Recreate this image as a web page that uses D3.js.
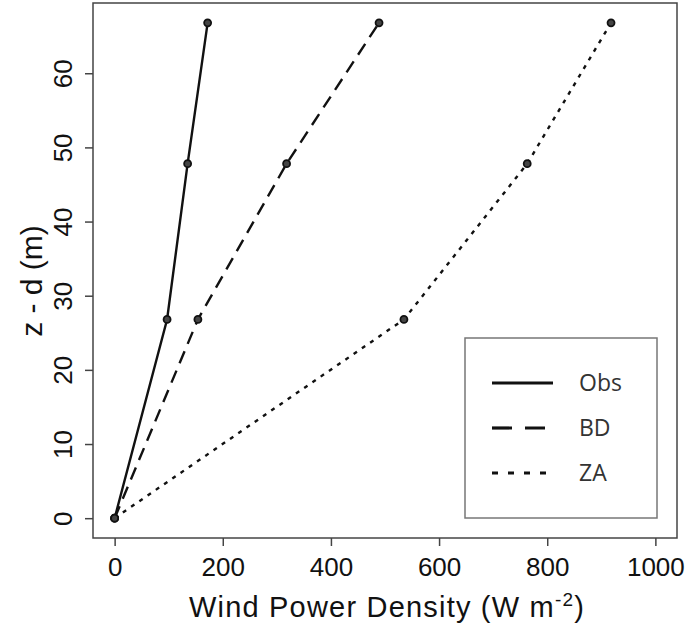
<!DOCTYPE html>
<html>
<head>
<meta charset="utf-8">
<script src="https://cdn.jsdelivr.net/npm/d3@7"></script>
<style>
  body { margin: 0; background: #fff; }
  svg { display: block; }
</style>
</head>
<body>
<svg id="chart" width="685" height="631"></svg>
<script>
// heights above displacement (m)
const heights = [0, 26.8, 47.8, 66.8];
// wind power density per profile (W m-2)
const obs = [0, 97, 135, 172];
const bd  = [0, 154, 318, 489];
const za  = [0, 535, 763, 918];
const seriesNames = ["Obs", "BD", "ZA"];
const xTicks = [0, 200, 400, 600, 800, 1000];
const yTicks = [0, 10, 20, 30, 40, 50, 60];

const box = {left: 93, top: 3, right: 677, bottom: 538};

const svg = d3.select("#chart");

// R-style 4% padding around the axis ranges
const x = d3.scaleLinear().domain([-40, 1040]).range([box.left, box.right]);
const yMax = d3.max(heights);
const pad = yMax * 0.04;
const y = d3.scaleLinear().domain([-pad, yMax + pad]).range([box.bottom, box.top]);

const dashes = {Obs: null, BD: "13,8", ZA: "4,6"};
const series = [
  {name: "Obs", vals: obs},
  {name: "BD", vals: bd},
  {name: "ZA", vals: za}
];

const line = d3.line()
  .x(d => x(d[0]))
  .y(d => y(d[1]));

const g = svg.append("g");
series.forEach(s => {
  const pts = s.vals.map((v, i) => [v, heights[i]]);
  g.append("path")
    .attr("d", line(pts))
    .attr("fill", "none")
    .attr("stroke", "#111")
    .attr("stroke-width", 2.4)
    .attr("stroke-dasharray", dashes[s.name]);
  g.selectAll(null)
    .data(pts)
    .enter()
    .append("circle")
    .attr("cx", d => x(d[0]))
    .attr("cy", d => y(d[1]))
    .attr("r", 3.5)
    .attr("fill", "#444")
    .attr("stroke", "#111")
    .attr("stroke-width", 1.8);
});

// plot box
svg.append("rect")
  .attr("x", box.left).attr("y", box.top)
  .attr("width", box.right - box.left).attr("height", box.bottom - box.top)
  .attr("fill", "none").attr("stroke", "#444").attr("stroke-width", 1.5);

const font = "'Liberation Sans', Arial, sans-serif";

// x axis
const xAxis = d3.axisBottom(x).tickValues(xTicks).tickSize(8).tickPadding(12).tickFormat(d3.format("d"));
svg.append("g")
  .attr("transform", `translate(0,${box.bottom})`)
  .call(xAxis)
  .call(a => a.select(".domain").remove())
  .call(a => a.selectAll("line").attr("stroke", "#444").attr("stroke-width", 1.5))
  .call(a => a.selectAll("text").attr("font-family", font).attr("font-size", 26).attr("fill", "#111"));

// y axis, labels rotated like R
const yAxis = d3.axisLeft(y).tickValues(yTicks).tickSize(8).tickFormat(d3.format("d"));
const ya = svg.append("g")
  .attr("transform", `translate(${box.left},0)`)
  .call(yAxis)
  .call(a => a.select(".domain").remove())
  .call(a => a.selectAll("line").attr("stroke", "#444").attr("stroke-width", 1.5));
ya.selectAll("text")
  .attr("x", null).attr("dy", null)
  .attr("transform", "translate(-21,0) rotate(-90)")
  .attr("text-anchor", "middle")
  .attr("font-family", font).attr("font-size", 26).attr("fill", "#111");

// axis titles
const xt = svg.append("text")
  .attr("x", (x(0) + x(1000)) / 2 + 2)
  .attr("y", 617)
  .attr("text-anchor", "middle")
  .attr("letter-spacing", 1.2)
  .attr("font-family", font).attr("font-size", 29).attr("fill", "#111");
xt.append("tspan").text("Wind Power Density (W m");
xt.append("tspan").attr("dy", -11).attr("font-size", 19).text("-2");
xt.append("tspan").attr("dy", 11).text(")");

svg.append("text")
  .attr("transform", "translate(42,281) rotate(-90)")
  .attr("text-anchor", "middle")
  .attr("font-family", font).attr("font-size", 30).attr("fill", "#111")
  .text("z - d (m)");

// legend
const leg = svg.append("g").attr("transform", "translate(465,338)");
leg.append("rect")
  .attr("width", 192).attr("height", 180)
  .attr("fill", "#fff").attr("stroke", "#777").attr("stroke-width", 1.5);
const legDash = {Obs: null, BD: "20,13", ZA: "6,10"};
seriesNames.forEach((n, i) => {
  const ly = 45 + i * 45;
  leg.append("line")
    .attr("x1", 27).attr("x2", 88)
    .attr("y1", ly).attr("y2", ly)
    .attr("stroke", "#111").attr("stroke-width", 3.2)
    .attr("stroke-dasharray", legDash[n]);
  leg.append("text")
    .attr("x", 114).attr("y", ly)
    .attr("dy", "0.35em")
    .attr("font-family", "'Open Sans', sans-serif").attr("font-size", 23)
    .attr("fill", "#333")
    .text(n);
});
</script>
</body>
</html>
